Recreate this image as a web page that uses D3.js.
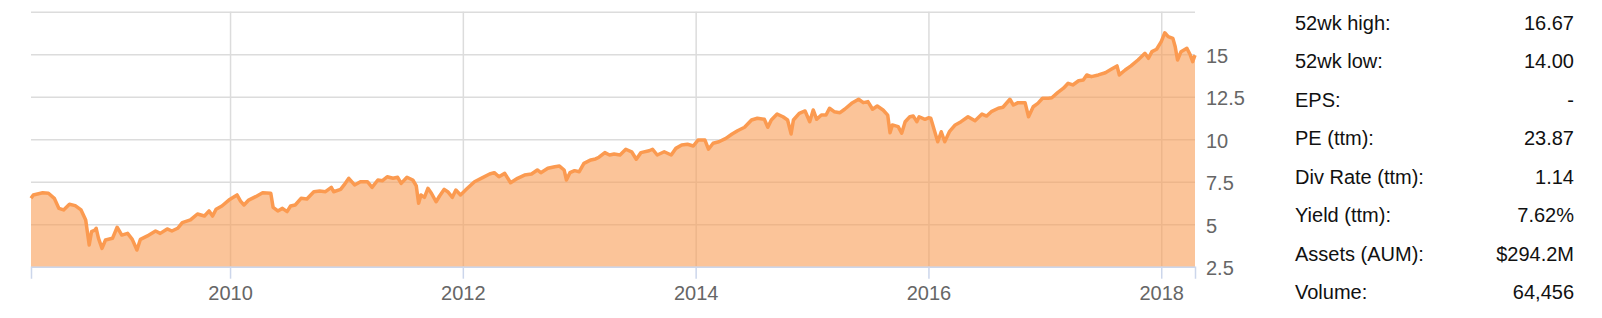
<!DOCTYPE html>
<html>
<head>
<meta charset="utf-8">
<script src="https://cdn.jsdelivr.net/npm/d3@7"></script>
<style>
  body { margin: 0; background: #fff; }
  text { font-family: "Liberation Sans", Arial, Helvetica, sans-serif; }
</style>
</head>
<body>
<div id="chart"></div>
<script>
// price history (decimal year, close)
const years = [
  2008.29, 2008.31, 2008.39, 2008.44, 2008.49, 2008.53, 2008.57, 2008.62, 2008.67, 2008.72,
  2008.76, 2008.79, 2008.81, 2008.84, 2008.85, 2008.87, 2008.90, 2008.93, 2008.99, 2009.03,
  2009.07, 2009.12, 2009.16, 2009.20, 2009.23, 2009.29, 2009.36, 2009.40, 2009.46, 2009.50,
  2009.55, 2009.59, 2009.66, 2009.72, 2009.78, 2009.82, 2009.85, 2009.88, 2009.93, 2009.99,
  2010.06, 2010.09, 2010.12, 2010.16, 2010.22, 2010.28, 2010.35, 2010.37, 2010.41, 2010.45,
  2010.49, 2010.52, 2010.56, 2010.61, 2010.66, 2010.72, 2010.77, 2010.82, 2010.87, 2010.89,
  2010.95, 2010.98, 2011.02, 2011.07, 2011.12, 2011.18, 2011.22, 2011.27, 2011.31, 2011.35,
  2011.40, 2011.44, 2011.47, 2011.52, 2011.57, 2011.60, 2011.62, 2011.64, 2011.67, 2011.70,
  2011.73, 2011.77, 2011.80, 2011.84, 2011.87, 2011.91, 2011.94, 2011.98, 2012.03, 2012.10,
  2012.17, 2012.23, 2012.27, 2012.31, 2012.36, 2012.41, 2012.47, 2012.53, 2012.59, 2012.64,
  2012.67, 2012.73, 2012.79, 2012.83, 2012.87, 2012.89, 2012.92, 2012.96, 2013.00, 2013.04,
  2013.10, 2013.14, 2013.17, 2013.22, 2013.26, 2013.30, 2013.35, 2013.40, 2013.45, 2013.49,
  2013.53, 2013.60, 2013.63, 2013.67, 2013.73, 2013.79, 2013.83, 2013.88, 2013.93, 2013.98,
  2014.02, 2014.08, 2014.11, 2014.15, 2014.20, 2014.26, 2014.31, 2014.36, 2014.42, 2014.48,
  2014.53, 2014.59, 2014.62, 2014.65, 2014.70, 2014.75, 2014.79, 2014.82, 2014.84, 2014.89,
  2014.94, 2014.98, 2015.01, 2015.04, 2015.08, 2015.12, 2015.15, 2015.19, 2015.24, 2015.28,
  2015.34, 2015.40, 2015.44, 2015.48, 2015.52, 2015.56, 2015.61, 2015.65, 2015.67, 2015.69,
  2015.74, 2015.77, 2015.80, 2015.84, 2015.87, 2015.90, 2015.92, 2015.97, 2016.00, 2016.02,
  2016.05, 2016.08, 2016.11, 2016.14, 2016.18, 2016.23, 2016.28, 2016.34, 2016.40, 2016.46,
  2016.50, 2016.54, 2016.60, 2016.64, 2016.70, 2016.73, 2016.77, 2016.83, 2016.86, 2016.90,
  2016.94, 2016.98, 2017.03, 2017.06, 2017.11, 2017.16, 2017.20, 2017.24, 2017.29, 2017.33,
  2017.36, 2017.40, 2017.46, 2017.52, 2017.57, 2017.62, 2017.64, 2017.69, 2017.74, 2017.80,
  2017.86, 2017.89, 2017.92, 2017.96, 2018.00, 2018.03, 2018.06, 2018.10, 2018.12, 2018.14,
  2018.17, 2018.22, 2018.25, 2018.27, 2018.29
];
const prices = [
  6.52, 6.72, 6.85, 6.82, 6.52, 5.93, 5.84, 6.17, 6.09, 5.84,
  5.25, 3.78, 4.56, 4.66, 4.76, 4.17, 3.58, 4.07, 4.17, 4.82,
  4.36, 4.46, 4.11, 3.48, 4.11, 4.31, 4.60, 4.46, 4.72, 4.60,
  4.76, 5.09, 5.25, 5.60, 5.48, 5.78, 5.48, 5.88, 6.07, 6.42,
  6.72, 6.36, 6.13, 6.42, 6.62, 6.85, 6.82, 5.99, 5.78, 5.93,
  5.74, 6.07, 6.13, 6.52, 6.48, 6.91, 6.95, 6.91, 7.17, 6.91,
  7.05, 7.31, 7.70, 7.31, 7.50, 7.50, 7.17, 7.60, 7.56, 7.79,
  7.70, 7.76, 7.40, 7.76, 7.60, 7.25, 6.23, 6.72, 6.58, 7.11,
  6.82, 6.32, 6.66, 7.05, 6.91, 6.58, 7.01, 6.72, 7.05, 7.50,
  7.74, 7.95, 8.03, 7.79, 7.99, 7.44, 7.70, 7.89, 7.95, 8.19,
  8.03, 8.29, 8.38, 8.42, 8.19, 7.60, 8.03, 8.15, 8.09, 8.58,
  8.78, 8.84, 8.94, 9.21, 9.07, 9.13, 9.07, 9.41, 9.26, 8.82,
  9.21, 9.32, 9.41, 9.07, 9.26, 9.07, 9.46, 9.66, 9.70, 9.60,
  9.95, 9.95, 9.41, 9.76, 9.85, 10.05, 10.29, 10.50, 10.70, 11.13,
  11.23, 11.17, 10.70, 11.13, 11.48, 11.32, 11.13, 10.31, 11.13, 11.52,
  11.66, 11.03, 11.72, 11.17, 11.42, 11.42, 11.82, 11.62, 11.56, 11.76,
  12.11, 12.35, 12.15, 12.21, 11.76, 11.95, 11.72, 11.42, 10.38, 10.84,
  10.74, 10.35, 11.03, 11.32, 11.36, 11.03, 11.32, 11.17, 11.26, 11.23,
  10.54, 9.85, 10.44, 9.85, 10.44, 10.84, 11.03, 11.32, 11.09, 11.48,
  11.36, 11.62, 11.82, 11.88, 12.35, 12.01, 12.15, 12.15, 11.32, 11.91,
  12.11, 12.41, 12.41, 12.44, 12.74, 13.00, 13.29, 13.19, 13.44, 13.48,
  13.78, 13.68, 13.78, 13.91, 14.11, 14.31, 13.78, 14.07, 14.31, 14.66,
  15.05, 14.76, 15.15, 15.29, 15.74, 16.26, 16.03, 15.93, 15.44, 14.66,
  15.15, 15.35, 14.95, 14.56, 14.95
];
const yTicks = [2.5, 5, 7.5, 10, 12.5, 15];
const yGrid = [2.5, 5, 7.5, 10, 12.5, 15, 17.5];
const xTicks = [2010, 2012, 2014, 2016, 2018];
const statLabels = ["52wk high:", "52wk low:", "EPS:", "PE (ttm):", "Div Rate (ttm):", "Yield (ttm):", "Assets (AUM):", "Volume:"];
const statValues = ["16.67", "14.00", "-", "23.87", "1.14", "7.62%", "$294.2M", "64,456"];

const margin = { top: 11.7, left: 31 };
const width = 1164;
const height = 255;

const svg = d3.select("#chart").append("svg")
  .attr("width", 1602)
  .attr("height", 318);

const g = svg.append("g")
  .attr("transform", `translate(${margin.left},${margin.top})`);

const x = d3.scaleLinear().domain(d3.extent(years)).range([0, width]);
const y = d3.scaleLinear().domain([2.5, 17.5]).range([height, 0]);
const data = years.map((t, i) => ({ t: t, v: prices[i] }));

// horizontal grid
const hGrid = g.append("g")
  .call(d3.axisLeft(y).tickValues(yGrid).tickSize(-width).tickFormat(""));
hGrid.select(".domain").remove();
hGrid.selectAll("line").attr("stroke", "#dcdcdc").attr("stroke-width", 1.5);

// vertical grid
const vGrid = g.append("g")
  .attr("transform", `translate(0,${height})`)
  .call(d3.axisBottom(x).tickValues(xTicks).tickSize(-height).tickFormat(""));
vGrid.select(".domain").remove();
vGrid.selectAll("line").attr("stroke", "#dcdcdc").attr("stroke-width", 1.5);

const area = d3.area()
  .x(d => x(d.t))
  .y0(y(2.5))
  .y1(d => y(d.v));

const line = d3.line()
  .x(d => x(d.t))
  .y(d => y(d.v));

g.append("path")
  .datum(data)
  .attr("fill", "#f99d55")
  .attr("fill-opacity", 0.6)
  .attr("d", area);

g.append("path")
  .datum(data)
  .attr("fill", "none")
  .attr("stroke", "#fb9a50")
  .attr("stroke-width", 3.5)
  .attr("stroke-linejoin", "round")
  .attr("d", line);

// x axis
const xAxis = g.append("g")
  .attr("transform", `translate(0,${height})`)
  .call(d3.axisBottom(x).tickValues(xTicks).tickSize(12).tickPadding(7).tickFormat(d3.format("d")));
xAxis.select(".domain").attr("stroke", "#ccd6eb").attr("stroke-width", 1.5);
xAxis.selectAll("line").attr("stroke", "#ccd6eb").attr("stroke-width", 1.5);
xAxis.selectAll("text")
  .attr("fill", "#666")
  .style("font-size", "20px");

// y axis on the right
const yAxis = g.append("g")
  .attr("transform", `translate(${width},0)`)
  .call(d3.axisRight(y).tickValues(yTicks).tickSize(0).tickPadding(11).tickFormat(d => String(d)));
yAxis.select(".domain").remove();
yAxis.selectAll("text")
  .attr("fill", "#666")
  .attr("dy", "0.4em")
  .style("font-size", "20px");

// stats panel
const panel = svg.append("g");
panel.selectAll(".stat-label")
  .data(statLabels)
  .enter().append("text")
  .attr("class", "stat-label")
  .attr("x", 1295)
  .attr("y", (d, i) => 29.5 + i * 38.5)
  .attr("fill", "#111")
  .style("font-size", "20px")
  .text(d => d);

panel.selectAll(".stat-value")
  .data(statValues)
  .enter().append("text")
  .attr("class", "stat-value")
  .attr("x", 1574)
  .attr("y", (d, i) => 29.5 + i * 38.5)
  .attr("text-anchor", "end")
  .attr("fill", "#111")
  .style("font-size", "20px")
  .text(d => d);
</script>
</body>
</html>
